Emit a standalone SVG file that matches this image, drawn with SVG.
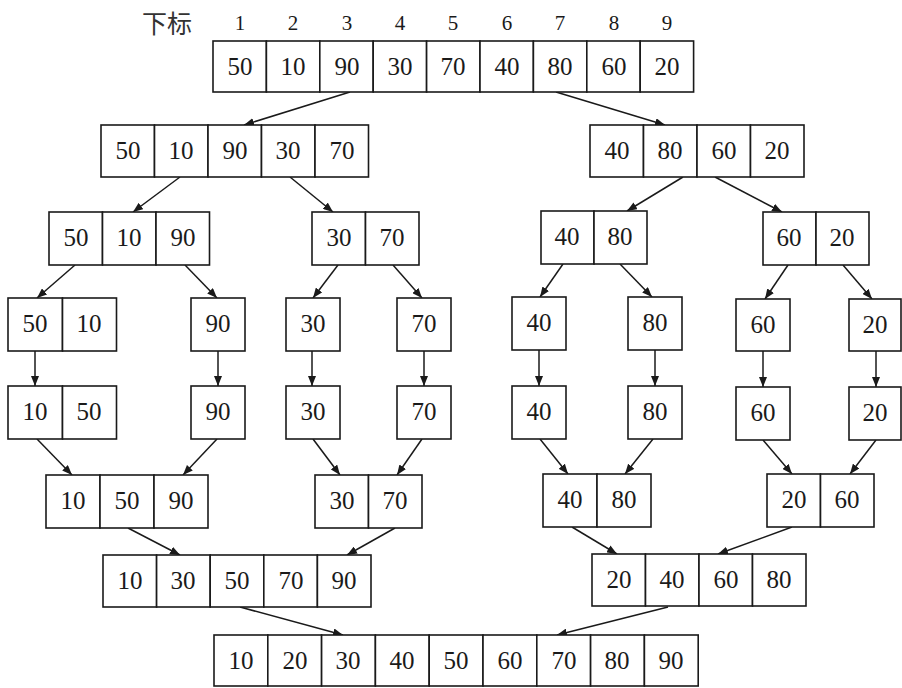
<svg xmlns="http://www.w3.org/2000/svg" width="902" height="688" viewBox="0 0 902 688">
<style>
.c{fill:#fff;stroke:#1a1a1a;stroke-width:1.6}
.t{font-family:"Liberation Serif","Times New Roman",serif;font-size:25px;fill:#1a1a1a;text-anchor:middle}
.i{font-family:"Liberation Serif","Times New Roman",serif;font-size:21px;fill:#1a1a1a;text-anchor:middle}
.h{font-family:"Noto Sans CJK SC","Noto Sans",sans-serif;font-size:25px;fill:#333}
.e{stroke:#1a1a1a;stroke-width:1.5;fill:none;marker-end:url(#ah)}
</style>
<defs>
<marker id="ah" viewBox="0 0 10 8" refX="10" refY="4" markerWidth="10" markerHeight="8" markerUnits="userSpaceOnUse" orient="auto">
<path d="M0,0 L10,4 L0,8 z" fill="#1a1a1a"/>
</marker>
</defs>
<rect width="902" height="688" fill="#fff"/>
<g id="index">
<text class="h" x="142" y="33">下标</text>
<text class="i" x="240" y="30">1</text><text class="i" x="293" y="30">2</text><text class="i" x="347" y="30">3</text><text class="i" x="400" y="30">4</text><text class="i" x="453" y="30">5</text><text class="i" x="507" y="30">6</text><text class="i" x="560" y="30">7</text><text class="i" x="614" y="30">8</text><text class="i" x="667" y="30">9</text>
</g>
<g id="edges">
<line class="e" x1="350" y1="92" x2="244" y2="125"/>
<line class="e" x1="556" y1="92" x2="665" y2="125"/>
<line class="e" x1="180" y1="177" x2="133" y2="212"/>
<line class="e" x1="290" y1="177" x2="333" y2="212"/>
<line class="e" x1="683" y1="177" x2="627" y2="211"/>
<line class="e" x1="715" y1="177" x2="782" y2="212"/>
<line class="e" x1="75" y1="265" x2="37" y2="298"/>
<line class="e" x1="185" y1="265" x2="217" y2="298"/>
<line class="e" x1="338" y1="265" x2="313" y2="298"/>
<line class="e" x1="393" y1="265" x2="422" y2="298"/>
<line class="e" x1="563" y1="264" x2="540" y2="297"/>
<line class="e" x1="620" y1="264" x2="652" y2="297"/>
<line class="e" x1="788" y1="265" x2="765" y2="299"/>
<line class="e" x1="843" y1="265" x2="872" y2="299"/>
<line class="e" x1="35" y1="351" x2="35" y2="386"/>
<line class="e" x1="218" y1="351" x2="218" y2="386"/>
<line class="e" x1="312" y1="351" x2="312" y2="386"/>
<line class="e" x1="424" y1="351" x2="424" y2="386"/>
<line class="e" x1="539" y1="350" x2="539" y2="386"/>
<line class="e" x1="655" y1="350" x2="655" y2="386"/>
<line class="e" x1="763" y1="351" x2="763" y2="387"/>
<line class="e" x1="876" y1="351" x2="876" y2="387"/>
<line class="e" x1="37" y1="439" x2="72" y2="475"/>
<line class="e" x1="217" y1="439" x2="183" y2="475"/>
<line class="e" x1="313" y1="439" x2="340" y2="475"/>
<line class="e" x1="422" y1="439" x2="397" y2="475"/>
<line class="e" x1="540" y1="439" x2="568" y2="474"/>
<line class="e" x1="653" y1="439" x2="625" y2="474"/>
<line class="e" x1="763" y1="440" x2="792" y2="474"/>
<line class="e" x1="876" y1="440" x2="850" y2="474"/>
<line class="e" x1="128" y1="528" x2="180" y2="555"/>
<line class="e" x1="395" y1="528" x2="347" y2="555"/>
<line class="e" x1="572" y1="527" x2="617" y2="554"/>
<line class="e" x1="792" y1="527" x2="718" y2="554"/>
<line class="e" x1="240" y1="607" x2="343" y2="635"/>
<line class="e" x1="668" y1="607" x2="557" y2="635"/>
</g>
<g id="r1">
<rect class="c" x="213" y="41" width="53.4" height="51"/><rect class="c" x="266.4" y="41" width="53.4" height="51"/><rect class="c" x="319.8" y="41" width="53.4" height="51"/><rect class="c" x="373.2" y="41" width="53.4" height="51"/><rect class="c" x="426.6" y="41" width="53.4" height="51"/><rect class="c" x="480" y="41" width="53.4" height="51"/><rect class="c" x="533.4" y="41" width="53.4" height="51"/><rect class="c" x="586.8" y="41" width="53.4" height="51"/><rect class="c" x="640.2" y="41" width="53.4" height="51"/>
<text class="t" x="240" y="75">50</text><text class="t" x="293" y="75">10</text><text class="t" x="347" y="75">90</text><text class="t" x="400" y="75">30</text><text class="t" x="453" y="75">70</text><text class="t" x="507" y="75">40</text><text class="t" x="560" y="75">80</text><text class="t" x="614" y="75">60</text><text class="t" x="667" y="75">20</text>
</g>
<g id="r2a">
<rect class="c" x="101" y="125" width="53.5" height="52"/><rect class="c" x="154.5" y="125" width="53.5" height="52"/><rect class="c" x="208" y="125" width="53.5" height="52"/><rect class="c" x="261.5" y="125" width="53.5" height="52"/><rect class="c" x="315" y="125" width="53.5" height="52"/>
<text class="t" x="128" y="159">50</text><text class="t" x="181" y="159">10</text><text class="t" x="235" y="159">90</text><text class="t" x="288" y="159">30</text><text class="t" x="342" y="159">70</text>
</g>
<g id="r2b">
<rect class="c" x="590" y="125" width="53.5" height="52"/><rect class="c" x="643.5" y="125" width="53.5" height="52"/><rect class="c" x="697" y="125" width="53.5" height="52"/><rect class="c" x="750.5" y="125" width="53.5" height="52"/>
<text class="t" x="617" y="159">40</text><text class="t" x="670" y="159">80</text><text class="t" x="724" y="159">60</text><text class="t" x="777" y="159">20</text>
</g>
<g id="r3a">
<rect class="c" x="49" y="212" width="53.5" height="53"/><rect class="c" x="102.5" y="212" width="53.5" height="53"/><rect class="c" x="156" y="212" width="53.5" height="53"/>
<text class="t" x="76" y="246">50</text><text class="t" x="129" y="246">10</text><text class="t" x="183" y="246">90</text>
</g>
<g id="r3b">
<rect class="c" x="312" y="212" width="53.5" height="53"/><rect class="c" x="365.5" y="212" width="53.5" height="53"/>
<text class="t" x="339" y="246">30</text><text class="t" x="392" y="246">70</text>
</g>
<g id="r3c">
<rect class="c" x="541" y="211" width="53" height="53"/><rect class="c" x="594" y="211" width="53" height="53"/>
<text class="t" x="567" y="245">40</text><text class="t" x="620" y="245">80</text>
</g>
<g id="r3d">
<rect class="c" x="763" y="212" width="53" height="53"/><rect class="c" x="816" y="212" width="53" height="53"/>
<text class="t" x="789" y="246">60</text><text class="t" x="842" y="246">20</text>
</g>
<g id="r4a"><rect class="c" x="8" y="298" width="54.5" height="53"/><rect class="c" x="62.5" y="298" width="54" height="53"/><text class="t" x="35" y="332">50</text><text class="t" x="89" y="332">10</text></g>
<g id="r4b"><rect class="c" x="191" y="298" width="54" height="53"/><text class="t" x="218" y="332">90</text></g>
<g id="r4c"><rect class="c" x="286" y="298" width="54" height="53"/><text class="t" x="313" y="332">30</text></g>
<g id="r4d"><rect class="c" x="397" y="298" width="54" height="53"/><text class="t" x="424" y="332">70</text></g>
<g id="r4e"><rect class="c" x="512" y="297" width="54" height="53"/><text class="t" x="539" y="331">40</text></g>
<g id="r4f"><rect class="c" x="628" y="297" width="54" height="53"/><text class="t" x="655" y="331">80</text></g>
<g id="r4g"><rect class="c" x="736" y="299" width="54" height="52"/><text class="t" x="763" y="333">60</text></g>
<g id="r4h"><rect class="c" x="849" y="299" width="52" height="52"/><text class="t" x="875" y="333">20</text></g>
<g id="r5a"><rect class="c" x="8" y="386" width="54.5" height="53"/><rect class="c" x="62.5" y="386" width="54" height="53"/><text class="t" x="35" y="420">10</text><text class="t" x="89" y="420">50</text></g>
<g id="r5b"><rect class="c" x="191" y="386" width="54" height="53"/><text class="t" x="218" y="420">90</text></g>
<g id="r5c"><rect class="c" x="286" y="386" width="54" height="53"/><text class="t" x="313" y="420">30</text></g>
<g id="r5d"><rect class="c" x="397" y="386" width="54" height="53"/><text class="t" x="424" y="420">70</text></g>
<g id="r5e"><rect class="c" x="512" y="386" width="54" height="53"/><text class="t" x="539" y="420">40</text></g>
<g id="r5f"><rect class="c" x="628" y="386" width="54" height="53"/><text class="t" x="655" y="420">80</text></g>
<g id="r5g"><rect class="c" x="736" y="387" width="54" height="53"/><text class="t" x="763" y="421">60</text></g>
<g id="r5h"><rect class="c" x="849" y="387" width="52" height="53"/><text class="t" x="875" y="421">20</text></g>
<g id="r6a">
<rect class="c" x="46" y="475" width="54" height="53"/><rect class="c" x="100" y="475" width="54" height="53"/><rect class="c" x="154" y="475" width="54" height="53"/>
<text class="t" x="73" y="509">10</text><text class="t" x="127" y="509">50</text><text class="t" x="181" y="509">90</text>
</g>
<g id="r6b">
<rect class="c" x="315" y="475" width="53.5" height="53"/><rect class="c" x="368.5" y="475" width="53.5" height="53"/>
<text class="t" x="342" y="509">30</text><text class="t" x="395" y="509">70</text>
</g>
<g id="r6c">
<rect class="c" x="543" y="474" width="54" height="53"/><rect class="c" x="597" y="474" width="54" height="53"/>
<text class="t" x="570" y="508">40</text><text class="t" x="624" y="508">80</text>
</g>
<g id="r6d">
<rect class="c" x="767" y="474" width="53.5" height="53"/><rect class="c" x="820.5" y="474" width="53.5" height="53"/>
<text class="t" x="794" y="508">20</text><text class="t" x="847" y="508">60</text>
</g>
<g id="r7a">
<rect class="c" x="103" y="555" width="53.6" height="52"/><rect class="c" x="156.6" y="555" width="53.6" height="52"/><rect class="c" x="210.2" y="555" width="53.6" height="52"/><rect class="c" x="263.8" y="555" width="53.6" height="52"/><rect class="c" x="317.4" y="555" width="53.6" height="52"/>
<text class="t" x="130" y="589">10</text><text class="t" x="183" y="589">30</text><text class="t" x="237" y="589">50</text><text class="t" x="291" y="589">70</text><text class="t" x="344" y="589">90</text>
</g>
<g id="r7b">
<rect class="c" x="592" y="554" width="53.5" height="52"/><rect class="c" x="645.5" y="554" width="53.5" height="52"/><rect class="c" x="699" y="554" width="53.5" height="52"/><rect class="c" x="752.5" y="554" width="53.5" height="52"/>
<text class="t" x="619" y="588">20</text><text class="t" x="672" y="588">40</text><text class="t" x="726" y="588">60</text><text class="t" x="779" y="588">80</text>
</g>
<g id="r8">
<rect class="c" x="214" y="635" width="53.8" height="51"/><rect class="c" x="267.8" y="635" width="53.8" height="51"/><rect class="c" x="321.6" y="635" width="53.8" height="51"/><rect class="c" x="375.4" y="635" width="53.8" height="51"/><rect class="c" x="429.2" y="635" width="53.8" height="51"/><rect class="c" x="483" y="635" width="53.8" height="51"/><rect class="c" x="536.8" y="635" width="53.8" height="51"/><rect class="c" x="590.6" y="635" width="53.8" height="51"/><rect class="c" x="644.4" y="635" width="53.8" height="51"/>
<text class="t" x="241" y="669">10</text><text class="t" x="295" y="669">20</text><text class="t" x="348" y="669">30</text><text class="t" x="402" y="669">40</text><text class="t" x="456" y="669">50</text><text class="t" x="510" y="669">60</text><text class="t" x="564" y="669">70</text><text class="t" x="617" y="669">80</text><text class="t" x="671" y="669">90</text>
</g>
</svg>
